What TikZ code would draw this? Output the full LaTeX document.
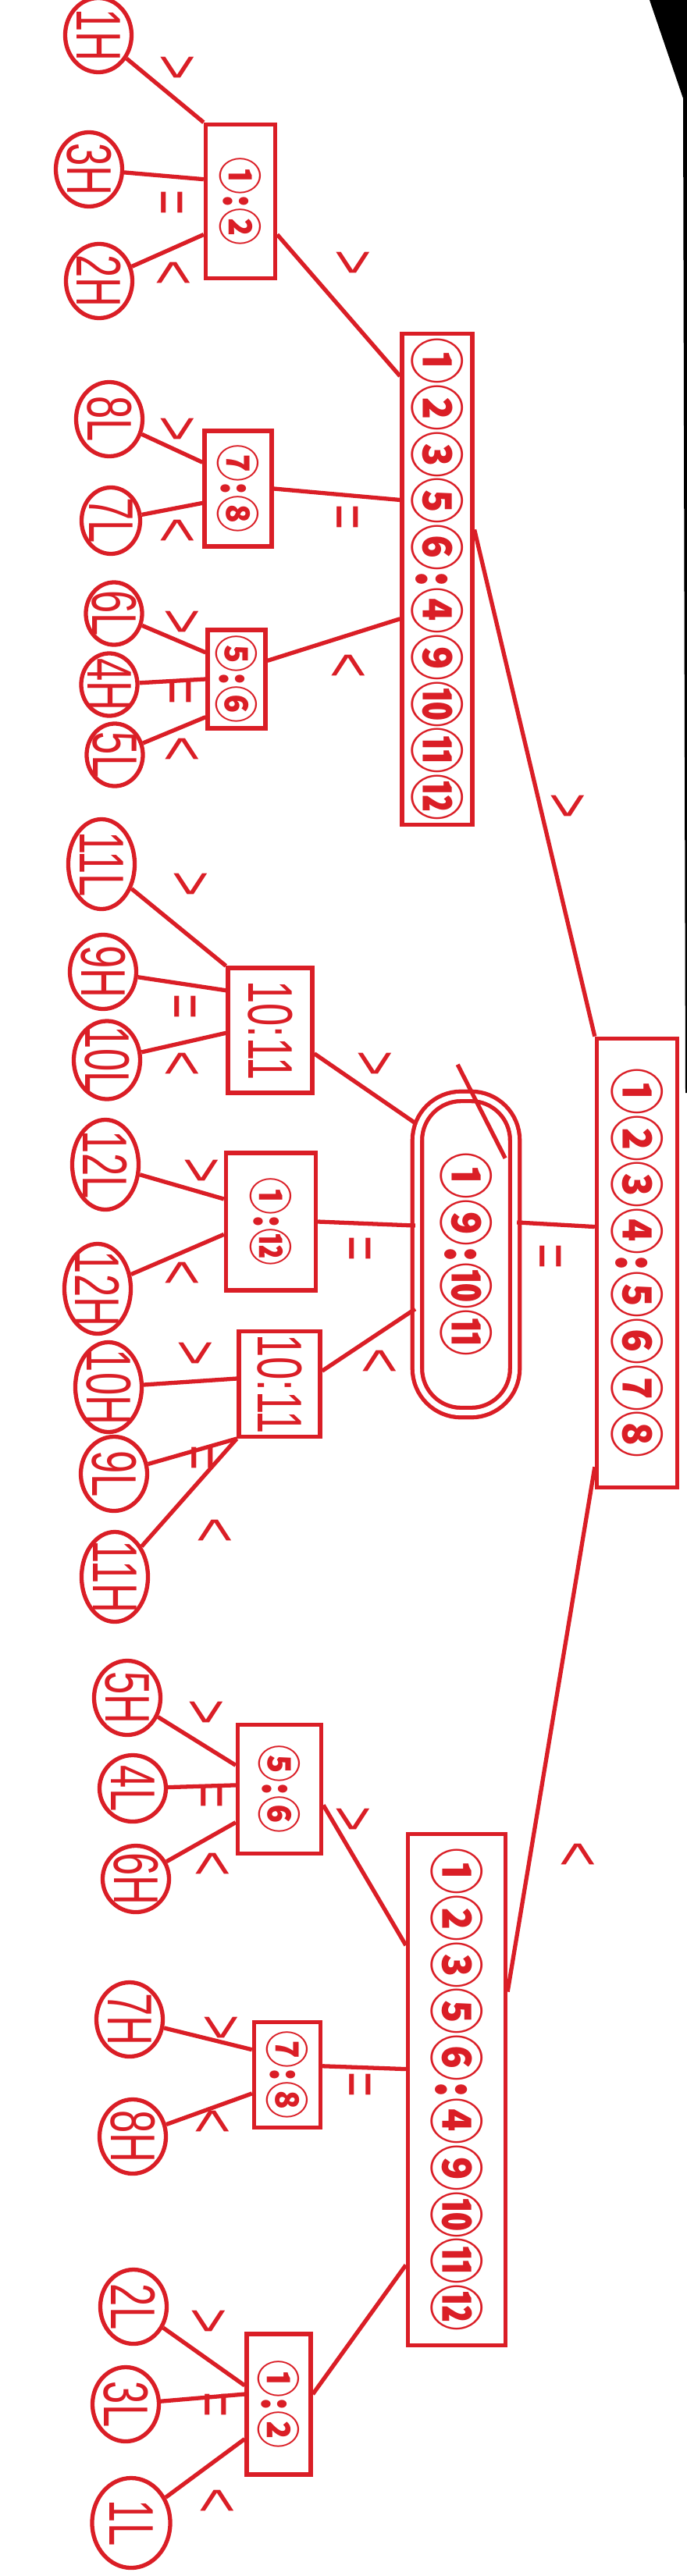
\documentclass[tikz,border=0pt]{standalone}
\usepackage{fontspec}
\setmainfont{Liberation Sans}
\newfontfamily\cjk{Noto Sans CJK SC}[FakeStretch=0.85]
\newfontfamily\handfont{Liberation Sans}[FakeStretch=0.65]
\usepackage{tikz}
\usetikzlibrary{shapes.geometric, calc}
\definecolor{ink}{RGB}{218,30,38}
\tikzset{
        bigbox/.style={rectangle, draw=ink, line width=1.5pt, text=ink, inner sep=1.5pt, font=\cjk\bfseries\fontsize{20}{20}\selectfont},
        smallbox/.style={rectangle, draw=ink, line width=1.5pt, text=ink, inner sep=1pt, font=\cjk\bfseries\fontsize{16}{16}\selectfont},
        numbox/.style={rectangle, draw=ink, line width=1.5pt, text=ink, inner sep=1pt, font=\handfont\fontsize{23}{23}\selectfont},
        leaf/.style={ellipse, draw=ink, line width=1.5pt, text=ink, inner sep=-4pt, minimum width=0.95cm, minimum height=0.85cm, font=\handfont\fontsize{23}{23}\selectfont},
        longleaf/.style={leaf, minimum width=1.15cm},
        tightleaf/.style={leaf, minimum width=0.8cm, minimum height=0.72cm},
        sign/.style={text=ink, inner sep=0pt, font=\handfont\fontsize{24}{24}\selectfont},
        link/.style={draw=ink, line width=1.5pt},
    }

\begin{document}
\begin{tikzpicture}[rotate=-90, transform shape, x=0.01cm, y=0.01cm]
        \fill[white] (0,0) rectangle (3300,880);
        \useasboundingbox (0,0) rectangle (3300,880);
        % scanner corner
        \fill[black] (0,832) -- (0,880) -- (1400,880) -- (1400,878) -- (126,875) -- cycle;

        % first weighing
        \node[bigbox, minimum width=5.75cm, minimum height=1.03cm] (r) at (1618, 816) {①②③④:⑤⑥⑦⑧};

        % left side heavier
        \node[bigbox, minimum width=6.25cm, minimum height=0.9cm] (b1) at (742, 560) {①②③⑤⑥:④⑨⑩⑪⑫};
        \node[smallbox, minimum width=1.97cm, minimum height=0.89cm] (c1) at (258, 308) {①:②};
        \node[smallbox, minimum width=1.48cm, minimum height=0.86cm] (c2) at (626, 305) {⑦:⑧};
        \node[smallbox, minimum width=1.26cm, minimum height=0.74cm] (c3) at (870, 303) {⑤:⑥};
        \node[leaf] (h1) at (45, 126) {1H};
        \node[leaf] (h3) at (217, 114) {3H};
        \node[leaf] (h2) at (360, 127) {2H};
        \node[leaf] (l8) at (537, 140) {8L};
        \node[leaf, minimum width=0.85cm, minimum height=0.75cm] (l7) at (667, 142) {7L};
        \node[tightleaf] (l6) at (786, 146) {6L};
        \node[tightleaf] (h4) at (877, 140) {4H};
        \node[tightleaf] (l5) at (967, 147) {5L};

        % balanced
        \node[bigbox, rounded corners=16pt, double=white, double distance=2pt, minimum width=4.05cm, minimum height=1.25cm] (m) at (1607, 597) {①⑨:⑩⑪};
        \node[numbox, minimum width=1.6cm, minimum height=1.08cm] (a) at (1320, 346) {10:11};
        \node[smallbox, minimum width=1.76cm, minimum height=1.15cm] (b) at (1565, 347) {①:⑫};
        \node[numbox, minimum width=1.33cm, minimum height=1.04cm] (c) at (1773, 358) {10:11};
        \node[longleaf] (l11) at (1107, 130) {11L};
        \node[leaf] (h9) at (1245, 132) {9H};
        \node[longleaf, minimum width=1.0cm] (l10) at (1358, 137) {10L};
        \node[longleaf] (l12) at (1492, 135) {12L};
        \node[longleaf] (h12) at (1651, 125) {12H};
        \node[longleaf] (h10) at (1777, 139) {10H};
        \node[leaf] (l9) at (1888, 146) {9L};
        \node[longleaf] (h11) at (2020, 147) {11H};

        % right side heavier
        \node[bigbox, minimum width=6.55cm, minimum height=1.25cm] (b3) at (2677, 585) {①②③⑤⑥:④⑨⑩⑪⑫};
        \node[smallbox, minimum width=1.65cm, minimum height=1.07cm] (d1) at (2292, 358) {⑤:⑥};
        \node[smallbox, minimum width=1.35cm, minimum height=0.85cm] (d2) at (2658, 368) {⑦:⑧};
        \node[smallbox, minimum width=1.8cm, minimum height=0.82cm] (d3) at (3080, 357) {①:②};
        \node[leaf] (h5) at (2175, 163) {5H};
        \node[leaf, minimum width=0.85cm] (l4) at (2291, 170) {4L};
        \node[leaf, minimum width=0.85cm] (h6) at (2407, 174) {6H};
        \node[leaf] (h7) at (2587, 166) {7H};
        \node[leaf] (h8) at (2737, 170) {8H};
        \node[leaf] (l2) at (2955, 171) {2L};
        \node[leaf] (l3) at (3080, 161) {3L};
        \node[longleaf, minimum height=1.0cm] (l1) at (3232, 168) {1L};

        % links, left side heavier
        \draw[link] (h1) -- (c1.south west);
        \draw[link] (h3) -- ($(c1.south west)!.36!(c1.south east)$);
        \draw[link] (h2) -- ($(c1.south west)!.71!(c1.south east)$);
        \draw[link] (l8) -- ($(c2.south west)!.28!(c2.south east)$);
        \draw[link] (l7) -- ($(c2.south west)!.62!(c2.south east)$);
        \draw[link] (l6) -- ($(c3.south west)!.24!(c3.south east)$);
        \draw[link] (h4) -- (c3.south);
        \draw[link] (l5) -- ($(c3.south west)!.87!(c3.south east)$);
        \draw[link] ($(c1.north west)!.71!(c1.north east)$) -- ($(b1.south west)!.09!(b1.south east)$);
        \draw[link] (c2.north) -- ($(b1.south west)!.34!(b1.south east)$);
        \draw[link] ($(c3.north west)!.32!(c3.north east)$) -- ($(b1.south west)!.58!(b1.south east)$);
        \draw[link] ($(b1.north west)!.4!(b1.north east)$) -- (r.south west);

        % links, balanced
        \draw[link] (l11) -- (a.south west);
        \draw[link] (h9) -- ($(a.south west)!.19!(a.south east)$);
        \draw[link] (l10) -- ($(a.south west)!.52!(a.south east)$);
        \draw[link] (l12) -- ($(b.south west)!.34!(b.south east)$);
        \draw[link] (h12) -- ($(b.south west)!.59!(b.south east)$);
        \draw[link] (h10) -- ($(c.south west)!.45!(c.south east)$);
        \draw[link] (l9) -- (c.south east);
        \draw[link] (h11) -- (c.south east);
        \draw[link] ($(a.north west)!.68!(a.north east)$) -- ($(m.south west)!.09!(m.south east)$);
        \draw[link] (b.north) -- ($(m.south west)!.41!(m.south east)$);
        \draw[link] ($(c.north west)!.38!(c.north east)$) -- ($(m.south west)!.67!(m.south east)$);
        \draw[link] ($(m.north west)!.4!(m.north east)$) -- ($(r.south west)!.42!(r.south east)$);
        \draw[link] ([shift={(-38,-76)}]m.north west) -- ++(120,61);

        % links, right side heavier
        \draw[link] (h5) -- ($(d1.south west)!.32!(d1.south east)$);
        \draw[link] (l4) -- ($(d1.south west)!.47!(d1.south east)$);
        \draw[link] (h6) -- ($(d1.south west)!.75!(d1.south east)$);
        \draw[link] (h7) -- ($(d2.south west)!.27!(d2.south east)$);
        \draw[link] (h8) -- ($(d2.south west)!.67!(d2.south east)$);
        \draw[link] (l2) -- ($(d3.south west)!.37!(d3.south east)$);
        \draw[link] (l3) -- ($(d3.south west)!.43!(d3.south east)$);
        \draw[link] (l1) -- ($(d3.south west)!.74!(d3.south east)$);
        \draw[link] ($(d1.north west)!.62!(d1.north east)$) -- ($(b3.south west)!.22!(b3.south east)$);
        \draw[link] ($(d2.north west)!.42!(d2.north east)$) -- ($(b3.south west)!.46!(b3.south east)$);
        \draw[link] ($(d3.north west)!.43!(d3.north east)$) -- ($(b3.south west)!.84!(b3.south east)$);
        \draw[link] ($(r.south west)!.95!(r.south east)$) -- ($(b3.north west)!.31!(b3.north east)$);

        % results of the scale
        \node[sign] (g1) at (87, 224) {>};
        \node[sign] (g2) at (260, 213) {=};
        \node[sign] (g3) at (350, 219) {<};
        \node[sign] (g4) at (550, 224) {>};
        \node[sign] (g5) at (680, 224) {<};
        \node[sign] (g6) at (797, 230) {>};
        \node[sign] (g7) at (887, 224) {=};
        \node[sign] (g8) at (960, 230) {<};
        \node[sign] (g9) at (337, 449) {>};
        \node[sign] (g10) at (663, 438) {=};
        \node[sign] (g11) at (853, 443) {<};
        \node[sign] (g12) at (1033, 724) {>};
        \node[sign] (g13) at (1133, 241) {>};
        \node[sign] (g14) at (1290, 230) {=};
        \node[sign] (g15) at (1363, 230) {<};
        \node[sign] (g16) at (1363, 477) {>};
        \node[sign] (g17) at (1500, 255) {>};
        \node[sign] (g18) at (1630, 230) {<};
        \node[sign] (g19) at (1600, 454) {=};
        \node[sign] (g20) at (1733, 247) {>};
        \node[sign] (g21) at (1867, 252) {=};
        \node[sign] (g22) at (1960, 272) {<};
        \node[sign] (g23) at (1743, 483) {<};
        \node[sign] (g24) at (1610, 698) {=};
        \node[sign] (g25) at (2193, 261) {>};
        \node[sign] (g26) at (2300, 264) {=};
        \node[sign] (g27) at (2387, 269) {<};
        \node[sign] (g28) at (2330, 449) {>};
        \node[sign] (g29) at (2597, 280) {>};
        \node[sign] (g30) at (2717, 269) {<};
        \node[sign] (g31) at (2670, 454) {=};
        \node[sign] (g32) at (2973, 264) {>};
        \node[sign] (g33) at (3080, 269) {=};
        \node[sign] (g34) at (3203, 275) {<};
        \node[sign] (g35) at (2375, 737) {<};
    \end{tikzpicture}
\end{document}
